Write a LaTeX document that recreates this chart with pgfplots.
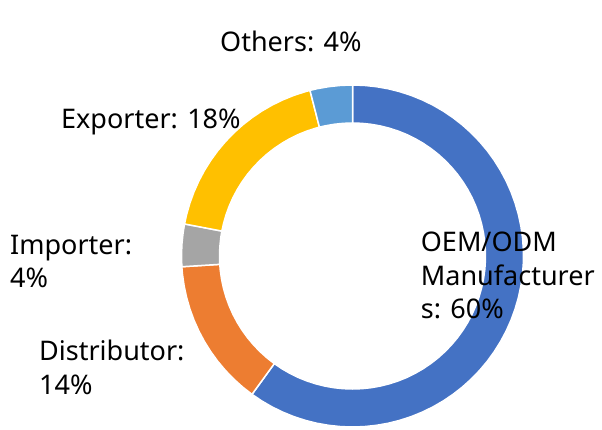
\documentclass[border=0pt]{standalone}
\usepackage{pgfplots}
\pgfplotsset{compat=1.18}
\usepackage{fontspec}
\setmainfont{Noto Sans}
\definecolor{cOEM}{HTML}{4472C4}
\definecolor{cDis}{HTML}{ED7D31}
\definecolor{cImp}{HTML}{A5A5A5}
\definecolor{cExp}{HTML}{FFC000}
\definecolor{cOth}{HTML}{5B9BD5}
\tikzset{lbl/.style={font=\fontsize{27}{33}\selectfont, inner sep=0pt, anchor=base west, text=black}}
% shares: OEM/ODM 60, Distributor 14, Importer 4, Exporter 18, Others 4 (percent)
% slice boundaries (degrees, clockwise from top): 90, -126, -176.4, -190.8, -255.6, -270
\begin{document}
\begin{tikzpicture}
\begin{axis}[
  x=1pt, y=1pt, hide axis, clip=false,
  xmin=-352.5, xmax=249.5, ymin=-173, ymax=256,
]
% OEM/ODM Manufacturers 60%
\addplot[fill=cOEM, draw=white, line width=1.5pt, data cs=polar] coordinates {
(90,171) (86,171) (82,171) (78,171) (74,171) (70,171) (66,171) (62,171) (58,171) (54,171) (50,171) (46,171) (42,171) (38,171) (34,171) (30,171) (26,171) (22,171) (18,171) (14,171) (10,171) (6,171) (2,171) (-2,171) (-6,171) (-10,171) (-14,171) (-18,171) (-22,171) (-26,171) (-30,171) (-34,171) (-38,171) (-42,171) (-46,171) (-50,171) (-54,171) (-58,171) (-62,171) (-66,171) (-70,171) (-74,171) (-78,171) (-82,171) (-86,171) (-90,171) (-94,171) (-98,171) (-102,171) (-106,171) (-110,171) (-114,171) (-118,171) (-122,171) (-126,171)
(-126,133) (-122,133) (-118,133) (-114,133) (-110,133) (-106,133) (-102,133) (-98,133) (-94,133) (-90,133) (-86,133) (-82,133) (-78,133) (-74,133) (-70,133) (-66,133) (-62,133) (-58,133) (-54,133) (-50,133) (-46,133) (-42,133) (-38,133) (-34,133) (-30,133) (-26,133) (-22,133) (-18,133) (-14,133) (-10,133) (-6,133) (-2,133) (2,133) (6,133) (10,133) (14,133) (18,133) (22,133) (26,133) (30,133) (34,133) (38,133) (42,133) (46,133) (50,133) (54,133) (58,133) (62,133) (66,133) (70,133) (74,133) (78,133) (82,133) (86,133) (90,133)
} -- cycle;
% Distributor 14%
\addplot[fill=cDis, draw=white, line width=1.5pt, data cs=polar] coordinates {
(-126,171) (-130,171) (-134,171) (-138,171) (-142,171) (-146,171) (-150,171) (-154,171) (-158,171) (-162,171) (-166,171) (-170,171) (-174,171) (-176.4,171)
(-176.4,133) (-174,133) (-170,133) (-166,133) (-162,133) (-158,133) (-154,133) (-150,133) (-146,133) (-142,133) (-138,133) (-134,133) (-130,133) (-126,133)
} -- cycle;
% Importer 4%
\addplot[fill=cImp, draw=white, line width=1.5pt, data cs=polar] coordinates {
(-176.4,171) (-180,171) (-184,171) (-188,171) (-190.8,171)
(-190.8,133) (-188,133) (-184,133) (-180,133) (-176.4,133)
} -- cycle;
% Exporter 18%
\addplot[fill=cExp, draw=white, line width=1.5pt, data cs=polar] coordinates {
(-190.8,171) (-194,171) (-198,171) (-202,171) (-206,171) (-210,171) (-214,171) (-218,171) (-222,171) (-226,171) (-230,171) (-234,171) (-238,171) (-242,171) (-246,171) (-250,171) (-254,171) (-255.6,171)
(-255.6,133) (-254,133) (-250,133) (-246,133) (-242,133) (-238,133) (-234,133) (-230,133) (-226,133) (-222,133) (-218,133) (-214,133) (-210,133) (-206,133) (-202,133) (-198,133) (-194,133) (-190.8,133)
} -- cycle;
% Others 4%
\addplot[fill=cOth, draw=white, line width=1.5pt, data cs=polar] coordinates {
(-255.6,171) (-258,171) (-262,171) (-266,171) (-270,171)
(-270,133) (-266,133) (-262,133) (-258,133) (-255.6,133)
} -- cycle;

\node[lbl] at (axis cs:-132.5,204.3) {Others: 4\%};
\node[lbl] at (axis cs:-291.5,127.7) {Exporter: 18\%};
\node[lbl] at (axis cs:-342.5,2) {Importer:};
\node[lbl] at (axis cs:-342.5,-31) {4\%};
\node[lbl] at (axis cs:-313.5,-104) {Distributor:};
\node[lbl] at (axis cs:-313.5,-138) {14\%};
\node[lbl] at (axis cs:68.2,4.3) {OEM/ODM};
\node[lbl] at (axis cs:68.2,-29) {Manufacturer};
\node[lbl] at (axis cs:68.2,-62.3) {s: 60\%};

\coordinate (SW) at (axis cs:-352.5,-173);
\coordinate (NE) at (axis cs:249.5,256);
\end{axis}
\pgfresetboundingbox
\useasboundingbox (SW) rectangle (NE);
\end{tikzpicture}
\end{document}
